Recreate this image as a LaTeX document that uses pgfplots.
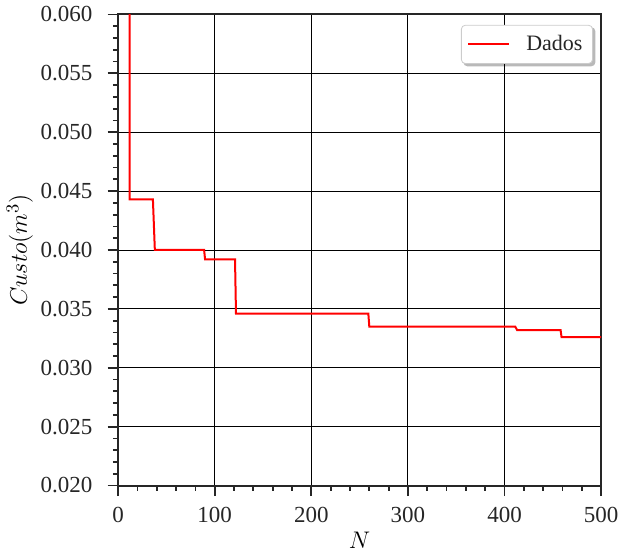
\documentclass[border=0pt]{standalone}
\usepackage{pgfplots}
\pgfplotsset{compat=1.18}
\usepackage{fontspec}
\setmainfont{Liberation Serif}
\usetikzlibrary{backgrounds}
\begin{document}
\begin{tikzpicture}
\begin{axis}[
    scale only axis,
    width=241.5pt,
    height=235.5pt,
    xmin=0, xmax=500,
    ymin=0.020, ymax=0.060,
    xtick={0,100,...,500},
    ytick={0.020,0.025,...,0.0601},
    minor tick num=4,
    tick align=outside,
    xtick pos=left, ytick pos=left,
    major tick length=5.3pt,
    minor tick length=2.6pt,
    every tick/.style={black!85, line width=0.9pt},
    axis line style={black!85, line width=1pt},
    grid=major,
    major grid style={black, line width=0.45pt},
    /pgf/number format/assume math mode=true,
    yticklabel style={xshift=-4pt, /pgf/number format/.cd, fixed, fixed zerofill, precision=3},
    xticklabel style={inner xsep=0.3pt, yshift=-2pt},
    scaled y ticks=false,
    ticklabel style={font=\fontsize{11.5}{13}\selectfont, text=black!85},
    xlabel={$N$},
    ylabel={$Custo(m^3)$},
    label style={font=\fontsize{12.5}{14}\selectfont},
    xlabel style={yshift=2pt},
    ylabel style={yshift=-3pt},
    legend style={name=leg, at={(0.983,0.978)}, anchor=north east,
        draw=gray!40, rounded corners=2pt, fill=white,
        font=\fontsize{11}{13}\selectfont, text=black!85,
        inner xsep=3pt, inner ysep=3pt},
    legend cell align=left,
    legend image code/.code={\draw[#1] (0cm,0cm) -- (0.72cm,0cm);},
]
\addplot[red, line width=1pt] coordinates {
    (12,0.075) (12,0.0443) (36,0.0443) (38,0.0400) (89,0.0400) (90,0.0392)
    (121,0.0392) (122,0.0346) (259,0.0346) (260,0.0335) (411,0.0335)
    (413,0.0332) (458,0.0332) (459,0.0326) (500,0.0326)
};
\addlegendentry{\hspace{6pt}Dados}
\end{axis}
\begin{pgfonlayer}{background}
\fill[gray!55, rounded corners=2pt]
    ([shift={(1.2pt,-1.2pt)}]leg.south west) rectangle ([shift={(1.2pt,-1.2pt)}]leg.north east);
\end{pgfonlayer}
\end{tikzpicture}
\end{document}
